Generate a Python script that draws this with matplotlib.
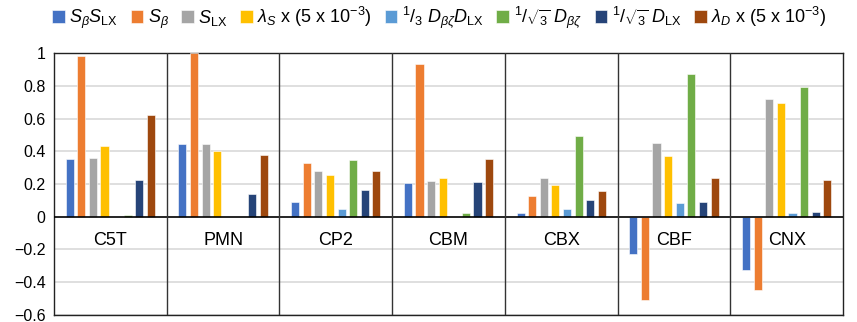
import matplotlib
matplotlib.use("Agg")
import matplotlib.pyplot as plt
import numpy as np

categories = ["C5T", "PMN", "CP2", "CBM", "CBX", "CBF", "CNX"]
series_labels = [
    r"$S_\beta S_{\rm LX}$",
    r"$S_\beta$",
    r"$S_{\rm LX}$",
    r"$\lambda_S$ x (5 x 10$^{-3}$)",
    r"$^1/_3\ D_{\beta\zeta} D_{\rm LX}$",
    r"$^1/_{\sqrt{3}}\ D_{\beta\zeta}$",
    r"$^1/_{\sqrt{3}}\ D_{\rm LX}$",
    r"$\lambda_D$ x (5 x 10$^{-3}$)",
]
s_beta_s_lx = [0.354, 0.445, 0.093, 0.207, 0.024, -0.226, -0.325]
s_beta      = [0.985, 1.000, 0.331, 0.935, 0.124, -0.506, -0.449]
s_lx        = [0.360, 0.445, 0.282, 0.220, 0.234, 0.451, 0.717]
lambda_s    = [0.430, 0.404, 0.256, 0.234, 0.193, 0.374, 0.697]
d_bz_d_lx   = [0.000, 0.000, 0.050, 0.000, 0.050, 0.081, 0.024]
d_bz        = [0.010, 0.000, 0.347, 0.024, 0.494, 0.874, 0.795]
d_lx        = [0.227, 0.142, 0.164, 0.213, 0.101, 0.093, 0.032]
lambda_d    = [0.620, 0.380, 0.282, 0.355, 0.158, 0.234, 0.227]
series = [s_beta_s_lx, s_beta, s_lx, lambda_s, d_bz_d_lx, d_bz, d_lx, lambda_d]
colors = ["#4472C4", "#ED7D31", "#A5A5A5", "#FFC000", "#5B9BD5", "#70AD47", "#264478", "#9E480E"]
yticks = [-0.6, -0.4, -0.2, 0, 0.2, 0.4, 0.6, 0.8, 1]

plt.rcParams['font.family'] = ['Liberation Sans', 'DejaVu Sans']
plt.rcParams['mathtext.fontset'] = 'custom'
plt.rcParams['mathtext.rm'] = 'Liberation Sans'
plt.rcParams['mathtext.it'] = 'Liberation Sans:italic'
plt.rcParams['mathtext.bf'] = 'Liberation Sans:bold'

fig = plt.figure(figsize=(8.57, 3.22), dpi=100)
ax = fig.add_axes([0.063, 0.022, 0.9207, 0.813])

step = 0.103
width = 0.072
x = np.arange(len(categories)) + 0.5
handles = []
for k, (vals, c) in enumerate(zip(series, colors)):
    off = (k - 3.5) * step
    b = ax.bar(x + off, vals, width=width, color=c, edgecolor='white', linewidth=0.4, zorder=3)
    handles.append(b)

ax.set_xlim(0, len(categories))
ax.set_ylim(-0.6, 1.0)
ax.set_yticks(yticks)
ax.set_yticklabels(["\u22120.6", "\u22120.4", "\u22120.2", "0", "0.2", "0.4", "0.6", "0.8", "1"], fontsize=11.5)
ax.tick_params(axis='y', length=0, pad=6)
ax.set_xticks([])
for yv in yticks:
    if yv != 0:
        ax.axhline(yv, color='#D9D9D9', lw=1.2, zorder=1)
ax.axhline(0, color='black', lw=1.2, zorder=4)
for i in range(1, len(categories)):
    ax.axvline(i, color='#333333', lw=1.0, zorder=4)
for sp in ax.spines.values():
    sp.set_color('#222222')
    sp.set_linewidth(1.0)
for i, cat in enumerate(categories):
    ax.text(i + 0.5, -0.148, cat, ha='center', va='center', fontsize=13, zorder=5)

fig.legend(handles, series_labels, loc='upper left', bbox_to_anchor=(0.048, 1.02), ncol=8,
           frameon=False, fontsize=13, handlelength=0.7, handleheight=0.7,
           handletextpad=0.25, columnspacing=0.7, borderaxespad=0.2)

fig.savefig("out.png", dpi=100)
